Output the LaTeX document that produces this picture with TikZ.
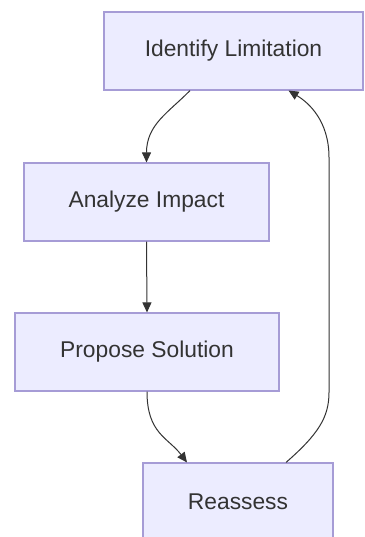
\documentclass[tikz,border=0pt]{standalone}
\usepackage{fontspec}
\setmainfont{Liberation Sans}
\usetikzlibrary{arrows.meta,calc}
\definecolor{boxfill}{HTML}{ECECFF}
\definecolor{boxline}{HTML}{A69CD6}
\definecolor{ink}{HTML}{333333}
\tikzset{
  flowbox/.style={draw=boxline, fill=boxfill, line width=1.1pt, rectangle,
    minimum height=78pt, inner sep=0pt, text=ink,
    font=\fontsize{22.8}{27}\selectfont},
  link/.style={draw=ink, line width=1pt, -{Triangle[length=10pt,width=9pt]}}
}
\begin{document}
\begin{tikzpicture}[x=1pt,y=-1pt]
\useasboundingbox (0,0) rectangle (364,537);
\node[flowbox, minimum width=259pt] (n1) at (233.5,51) {Identify Limitation};
\node[flowbox, minimum width=245pt] (n2) at (146.5,202) {Analyze Impact};
\node[flowbox, minimum width=264pt] (n3) at (147,352) {Propose Solution};
\node[flowbox, minimum width=190pt] (n4) at (238,502) {Reassess};
% n1 -> n2
\draw[link] ($(n1.south)+(-43.5,0)$) .. controls ($(n1.south)+(-65,22)$) and ($(n2.north)+(0,-38)$) .. (n2.north);
% n2 -> n3
\draw[link] (n2.south) -- (n3.north);
% n3 -> n4
\draw[link] (n3.south) .. controls ($(n3.south)+(0,42)$) and ($(n4.north)+(-70,-25)$) .. ($(n4.north)+(-51,0)$);
% n4 -> n1
\draw[link] ($(n4.north)+(48,0)$) .. controls ($(n4.north)+(80,-28)$) and ($(n4.north)+(91,-45)$) .. ($(n4.north)+(91,-70)$)
  -- ($(n1.south)+(95.5,67)$) .. controls ($(n1.south)+(95.5,30)$) and ($(n1.south)+(75,12)$) .. ($(n1.south)+(55,0)$);
\end{tikzpicture}
\end{document}
